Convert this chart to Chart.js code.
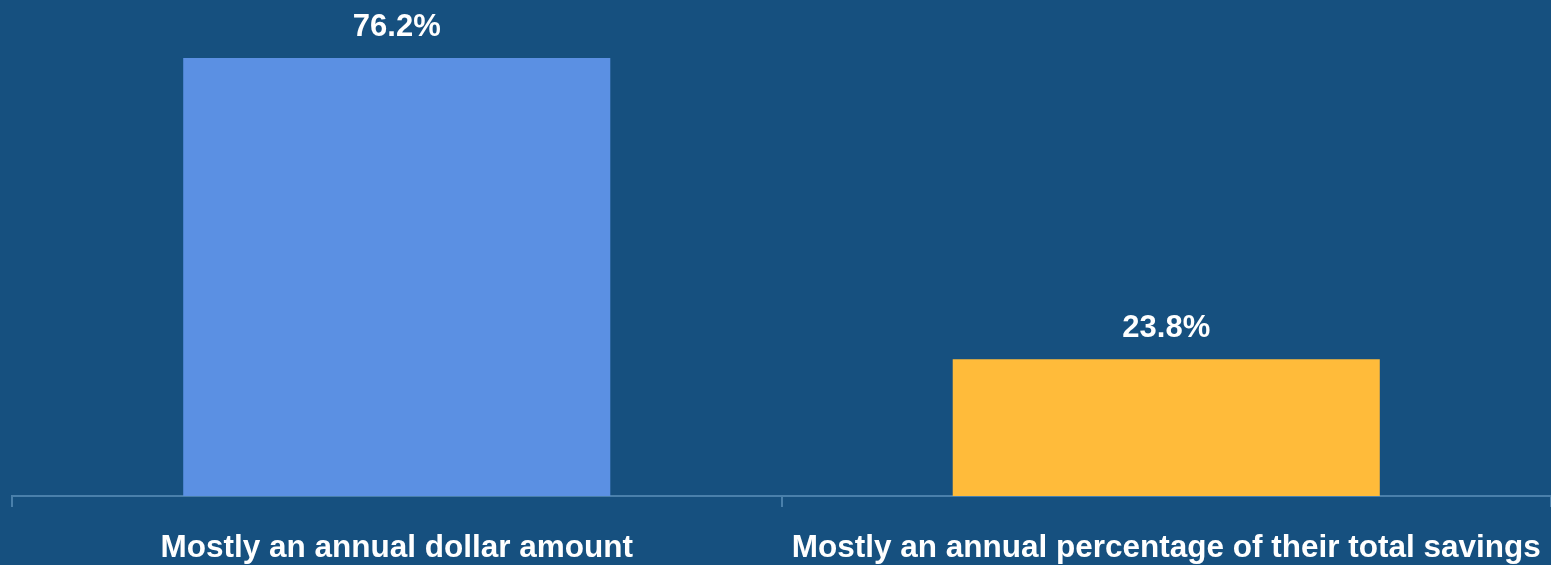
<!DOCTYPE html>
<html>
<head>
<meta charset="utf-8">
<script src="https://cdn.jsdelivr.net/npm/chart.js@4/dist/chart.umd.min.js"></script>
<style>
  html, body { margin: 0; padding: 0; background: #16507f; }
  #wrap { width: 1551px; height: 565px; position: relative; }
</style>
</head>
<body>
<div id="wrap"><canvas id="c"></canvas></div>
<script>
// Survey answers and their shares
const categories = ['Mostly an annual dollar amount', 'Mostly an annual percentage of their total savings'];
const shares = [76.2, 23.8];
const barColors = ['#5b90e3', '#ffbb3a'];

const FONT = '"Liberation Sans", Arial, Helvetica, sans-serif';

// Paint the dark blue backdrop behind everything
const backdrop = {
  id: 'backdrop',
  beforeDraw(chart) {
    const { ctx, width, height } = chart;
    ctx.save();
    ctx.fillStyle = '#16507f';
    ctx.fillRect(0, 0, width, height);
    ctx.restore();
  }
};

// Write each bar's value above it
const valueLabels = {
  id: 'valueLabels',
  afterDatasetsDraw(chart) {
    const { ctx } = chart;
    const meta = chart.getDatasetMeta(0);
    ctx.save();
    ctx.fillStyle = '#ffffff';
    ctx.font = 'bold 31px ' + FONT;
    ctx.textAlign = 'center';
    ctx.textBaseline = 'alphabetic';
    meta.data.forEach((bar, i) => {
      const v = chart.data.datasets[0].data[i];
      ctx.fillText(v.toFixed(1) + '%', bar.x, bar.y - 22);
    });
    ctx.restore();
  }
};

new Chart(document.getElementById('c'), {
  type: 'bar',
  data: {
    labels: categories,
    datasets: [{
      data: shares,
      backgroundColor: barColors,
      borderWidth: 0,
      barPercentage: 0.555,
      categoryPercentage: 1.0
    }]
  },
  options: {
    responsive: true,
    maintainAspectRatio: false,
    animation: false,
    layout: { padding: { left: 12, right: 0, top: 0, bottom: 0 } },
    plugins: { legend: { display: false }, tooltip: { enabled: false } },
    scales: {
      x: {
        afterFit(scale) {
          scale.height = 69;
          scale.paddingLeft = 0;
          scale.paddingRight = 0;
        },
        grid: {
          display: true,
          drawOnChartArea: false,
          drawTicks: true,
          tickLength: 11,
          color: '#4a80ab',
          lineWidth: 2
        },
        border: { display: true, color: '#4a80ab', width: 2 },
        ticks: {
          color: '#ffffff',
          font: { family: FONT, size: 31.5, weight: 'bold' },
          padding: 22,
          maxRotation: 0,
          autoSkip: false
        }
      },
      y: {
        display: false,
        min: 0,
        max: 86.3
      }
    }
  },
  plugins: [backdrop, valueLabels]
});
</script>
</body>
</html>
